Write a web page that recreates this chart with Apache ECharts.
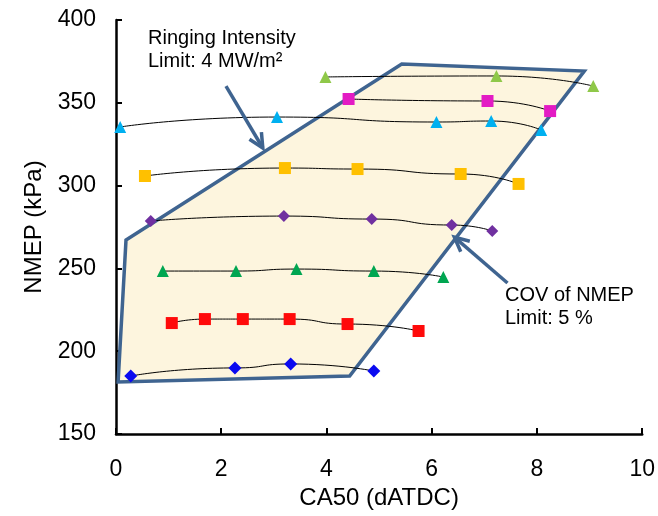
<!DOCTYPE html>
<html>
<head>
<meta charset="utf-8">
<script src="https://cdn.jsdelivr.net/npm/echarts@6/dist/echarts.min.js"></script>
<style>
html,body{margin:0;padding:0;background:#fff;}
#chart{width:658px;height:516px;}
</style>
</head>
<body>
<div id="chart"></div>
<script>
// ---- Data (CA50 in dATDC, NMEP in kPa) ----
const blueX = [0.28, 2.26, 3.32, 4.90];
const blueY = [185.0, 189.9, 192.3, 188.0];
const redX = [1.06, 1.69, 2.41, 3.30, 4.40, 5.75];
const redY = [217.0, 219.4, 219.4, 219.4, 216.4, 212.2];
const greenX = [0.89, 2.28, 3.43, 4.90, 6.22];
const greenY = [248.4, 248.4, 249.6, 248.4, 244.8];
const purpleX = [0.66, 3.19, 4.86, 6.38, 7.15];
const purpleY = [278.6, 281.6, 279.8, 276.2, 272.6];
const orangeX = [0.55, 3.21, 4.59, 6.55, 7.65];
const orangeY = [305.8, 310.6, 310.0, 307.0, 301.0];
const cyanX = [0.08, 3.06, 6.09, 7.13, 8.08];
const cyanY = [335.4, 341.4, 338.4, 339.0, 333.6];
const magentaX = [4.42, 7.06, 8.25];
const magentaY = [352.3, 351.1, 345.0];
const limeX = [3.98, 7.23, 9.07];
const limeY = [365.6, 366.2, 360.1];

// operating region polygon vertices
const regionX = [0.04, 0.19, 5.43, 8.90, 4.44];
const regionY = [181.4, 267.1, 373.4, 369.2, 185.0];

// annotation arrows [fromX, fromY, toX, toY]
const arrow1 = [2.09, 360.1, 2.79, 322.7];
const arrow2 = [7.44, 241.2, 6.43, 268.9];

const xTicks = [0, 2, 4, 6, 8, 10];
const yTicks = [150, 200, 250, 300, 350, 400];

const groups = [
  {x: blueX, y: blueY, symbol: 'diamond', size: 13, color: '#0A0AF0'},
  {x: redX, y: redY, symbol: 'rect', size: 12, color: '#FF0A0A'},
  {x: greenX, y: greenY, symbol: 'triangle', size: 12, color: '#00A651'},
  {x: purpleX, y: purpleY, symbol: 'diamond', size: 12, color: '#7030A0'},
  {x: orangeX, y: orangeY, symbol: 'rect', size: 12, color: '#FFC000'},
  {x: cyanX, y: cyanY, symbol: 'triangle', size: 12, color: '#00B0F0'},
  {x: magentaX, y: magentaY, symbol: 'rect', size: 12, color: '#E31BC4'},
  {x: limeX, y: limeY, symbol: 'triangle', size: 12, color: '#8FC849'}
];

const EDGE = '#3F6490';
const FONT = '"Liberation Sans", Arial, sans-serif';

const series = [];
// region polygon
series.push({
  type: 'custom',
  z: 1,
  silent: true,
  data: regionX.map((x, i) => [x, regionY[i]]),
  encode: {x: 0, y: 1},
  renderItem: function (params, api) {
    if (params.dataIndex !== 0) return;
    const pts = regionX.map((x, i) => api.coord([x, regionY[i]]));
    return {
      type: 'polygon',
      shape: {points: pts},
      style: {fill: '#FDF5DE', stroke: EDGE, lineWidth: 3.5, lineJoin: 'miter'}
    };
  }
});
// trend curves
groups.forEach(g => {
  series.push({
    type: 'line',
    z: 2,
    smooth: 0.6,
    smoothMonotone: 'x',
    showSymbol: false,
    silent: true,
    lineStyle: {color: '#000', width: 1},
    data: g.x.map((x, i) => [x, g.y[i]])
  });
});
// markers
groups.forEach(g => {
  series.push({
    type: 'scatter',
    z: 3,
    symbol: g.symbol,
    symbolSize: g.size,
    itemStyle: {color: g.color, opacity: 1},
    data: g.x.map((x, i) => [x, g.y[i]])
  });
});
// arrows
series.push({
  type: 'custom',
  z: 4,
  silent: true,
  data: [arrow1, arrow2],
  encode: {x: [0, 2], y: [1, 3]},
  renderItem: function (params, api) {
    const p0 = api.coord([api.value(0), api.value(1)]);
    const p1 = api.coord([api.value(2), api.value(3)]);
    const ang = Math.atan2(p1[1] - p0[1], p1[0] - p0[0]);
    const L = 16, A = Math.PI / 7;
    const h1 = [p1[0] - L * Math.cos(ang - A), p1[1] - L * Math.sin(ang - A)];
    const h2 = [p1[0] - L * Math.cos(ang + A), p1[1] - L * Math.sin(ang + A)];
    const st = {stroke: EDGE, lineWidth: 3.5, fill: null, lineCap: 'butt', lineJoin: 'miter'};
    return {
      type: 'group',
      children: [
        {type: 'line', shape: {x1: p0[0], y1: p0[1], x2: p1[0], y2: p1[1]}, style: st},
        {type: 'polyline', shape: {points: [h1, p1, h2]}, style: st}
      ]
    };
  }
});

const chart = echarts.init(document.getElementById('chart'), null, {renderer: 'canvas'});
chart.setOption({
  backgroundColor: '#ffffff',
  animation: false,
  textStyle: {fontFamily: FONT},
  grid: {left: 116, right: 15, top: 20, bottom: 82, containLabel: false},
  xAxis: {
    type: 'value',
    min: xTicks[0], max: xTicks[xTicks.length - 1], interval: 2,
    name: 'CA50 (dATDC)',
    nameLocation: 'middle',
    nameGap: 47,
    nameTextStyle: {fontSize: 24, color: '#000', fontFamily: FONT},
    axisLine: {lineStyle: {color: '#000', width: 2.5}},
    axisTick: {inside: true, length: 6, lineStyle: {color: '#000', width: 2}},
    axisLabel: {fontSize: 23, color: '#000', margin: 24, fontFamily: FONT},
    splitLine: {show: false}
  },
  yAxis: {
    type: 'value',
    min: yTicks[0], max: yTicks[yTicks.length - 1], interval: 50,
    name: 'NMEP (kPa)',
    nameLocation: 'middle',
    nameGap: 70,
    nameTextStyle: {fontSize: 24, color: '#000', fontFamily: FONT},
    axisLine: {lineStyle: {color: '#000', width: 2.5}},
    axisTick: {inside: true, length: 6, lineStyle: {color: '#000', width: 2}},
    axisLabel: {fontSize: 23, color: '#000', margin: 20, fontFamily: FONT},
    splitLine: {show: false}
  },
  graphic: [
    {type: 'text', left: 148, top: 27, style: {text: 'Ringing Intensity\nLimit: 4 MW/m²', font: '20px "Liberation Sans", Arial, sans-serif', fill: '#000', lineHeight: 23}},
    {type: 'text', left: 505, top: 284, style: {text: 'COV of NMEP\nLimit: 5 %', font: '20px "Liberation Sans", Arial, sans-serif', fill: '#000', lineHeight: 23}}
  ],
  series: series
});
</script>
</body>
</html>
